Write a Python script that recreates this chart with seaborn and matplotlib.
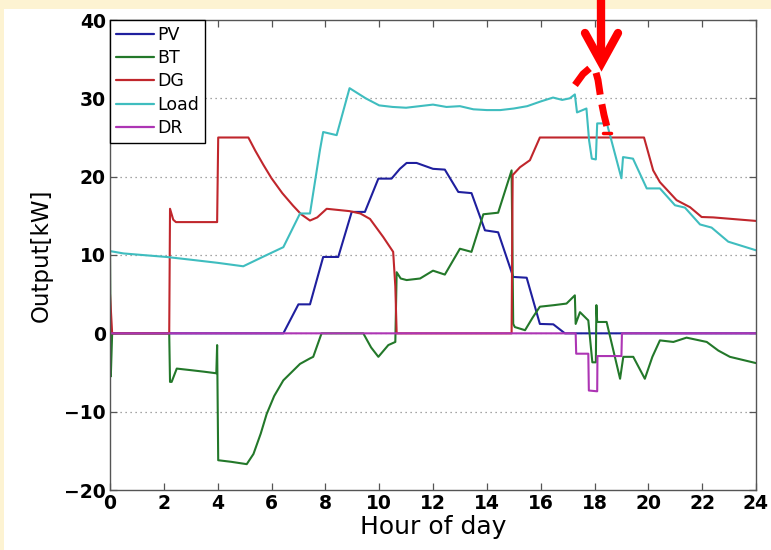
import numpy as np
import pandas as pd
import matplotlib
matplotlib.use("Agg")
import matplotlib.pyplot as plt
from matplotlib.patches import Rectangle
from matplotlib.lines import Line2D
import seaborn as sns

# ---- data (hour of day, output in kW) ----
pv_hours = [0, 6.44, 7.0, 7.43, 7.92, 8.48, 8.98, 9.47, 9.97, 10.46, 10.77, 11.02, 11.39,
            12.0, 12.44, 12.94, 13.43, 13.93, 14.42, 14.98, 15.48, 15.97, 16.47, 16.9, 24]
pv_kw = [0, 0, 3.7, 3.7, 9.75, 9.75, 15.5, 15.5, 19.75, 19.75, 21.0, 21.75, 21.75,
         21.0, 20.9, 18.05, 17.9, 13.15, 12.9, 7.2, 7.1, 1.2, 1.15, 0, 0]

bt_hours = [0, 0.03, 0.08, 2.2, 2.23, 2.29, 2.48, 3.0, 3.5, 3.95, 3.98, 4.02, 4.5, 5.08,
            5.33, 5.6, 5.82, 6.1, 6.44, 7.06, 7.43, 7.55, 7.86, 9.41, 9.7, 9.97, 10.34,
            10.6, 10.65, 10.8, 11.02, 11.52, 12.0, 12.44, 13.0, 13.43, 13.87, 14.42,
            14.92, 14.98, 15.04, 15.42, 15.7, 15.97, 16.5, 16.96, 17.27, 17.3, 17.46,
            17.77, 17.92, 18.05, 18.07, 18.1, 18.45, 18.95, 19.07, 19.44, 19.87, 20.15,
            20.43, 20.93, 21.42, 22.17, 22.6, 23.03, 24]
bt_kw = [10.4, -5.5, 0, 0, -6.2, -6.2, -4.5, -4.7, -4.9, -5.1, -1.5, -16.2, -16.4, -16.7,
         -15.4, -12.8, -10.3, -8.0, -6.0, -3.9, -3.2, -3.0, 0, 0, -1.8, -3.0, -1.5,
         -1.1, 7.8, 7.0, 6.8, 7.0, 8.0, 7.5, 10.8, 10.4, 15.2, 15.4,
         20.8, 1.2, 0.8, 0.4, 2.0, 3.4, 3.6, 3.8, 4.85, 1.2, 2.7,
         1.65, -3.7, -3.7, 3.6, 1.45, 1.45, -5.8, -3.0, -3.0, -5.8, -3.0,
         -0.9, -1.1, -0.55, -1.1, -2.2, -3.0, -3.8]

dg_hours = [0, 0.08, 2.2, 2.23, 2.35, 2.45, 3.98, 4.02, 5.14, 5.4, 5.7, 6.0, 6.4, 6.8,
            7.1, 7.43, 7.7, 8.05, 8.9, 9.3, 9.66, 10.15, 10.52, 10.6, 10.65, 14.92,
            14.96, 15.23, 15.6, 15.97, 19.84, 20.18, 20.43, 21.05, 21.55, 21.98, 22.41, 24]
dg_kw = [5.0, 0, 0, 15.9, 14.5, 14.2, 14.2, 25.0, 25.0, 23.3, 21.5, 19.8, 17.9, 16.3,
         15.2, 14.4, 14.8, 15.9, 15.6, 15.3, 14.6, 12.3, 10.4, 6.0, 0, 0,
         20.2, 21.2, 22.1, 25.0, 25.0, 20.8, 19.3, 17.0, 16.1, 14.85, 14.8, 14.35]

load_hours = [0, 0.5, 1.2, 2.1, 3.0, 4.0, 4.95, 5.7, 6.44, 7.06, 7.43, 7.8, 7.92, 8.42,
              8.9, 9.5, 10.0, 10.5, 11.0, 11.5, 12.0, 12.5, 13.0, 13.5, 14.0, 14.5,
              15.0, 15.5, 16.0, 16.46, 16.8, 17.08, 17.27, 17.35, 17.7, 17.8, 17.9,
              18.05, 18.1, 18.46, 19.0, 19.06, 19.43, 19.94, 20.43, 20.99, 21.36,
              21.92, 22.35, 22.97, 24]
load_kw = [10.5, 10.2, 10.0, 9.75, 9.4, 9.0, 8.56, 9.8, 11.0, 15.3, 15.3, 23.4, 25.7,
           25.3, 31.3, 30.0, 29.1, 28.9, 28.8, 29.0, 29.2, 28.9, 29.0, 28.6, 28.5,
           28.5, 28.7, 29.0, 29.6, 30.1, 29.8, 30.0, 30.5, 28.2, 28.7, 24.6, 22.3,
           22.2, 26.8, 26.8, 19.8, 22.5, 22.3, 18.5, 18.5, 16.35, 16.05, 13.9,
           13.5, 11.7, 10.6]

dr_hours = [0, 17.3, 17.32, 17.77, 17.79, 18.1, 18.11, 19.0, 19.02, 24]
dr_kw = [0, 0, -2.6, -2.6, -7.3, -7.4, -2.9, -2.9, 0, 0]

series = ["PV", "BT", "DG", "Load", "DR"]
colors = ["#1f1f9e", "#23782a", "#c0262c", "#3fbdbf", "#ad35b4"]

frames = []
for name, hrs, vals in [("PV", pv_hours, pv_kw), ("BT", bt_hours, bt_kw),
                        ("DG", dg_hours, dg_kw), ("Load", load_hours, load_kw),
                        ("DR", dr_hours, dr_kw)]:
    frames.append(pd.DataFrame({"hour": hrs, "kw": vals, "source": name}))
df = pd.concat(frames, ignore_index=True)

sns.set_style("ticks")
plt.rcParams["font.family"] = ["DejaVu Sans"]
plt.rcParams["text.color"] = "black"
plt.rcParams["axes.labelcolor"] = "black"

fig = plt.figure(figsize=(7.71, 5.5), dpi=100)
fig.patch.set_facecolor("white")
# pale frame strips along the top and left edges
fig.patches.append(Rectangle((0, 1 - 9 / 550), 1, 9 / 550, transform=fig.transFigure,
                             facecolor="#fdf3d2", edgecolor="none", zorder=-5))
fig.patches.append(Rectangle((0, 0), 4 / 771, 1, transform=fig.transFigure,
                             facecolor="#fdf3d2", edgecolor="none", zorder=-5))

ax = fig.add_axes([110 / 771, 60 / 550, 646 / 771, 470 / 550])
sns.lineplot(data=df, x="hour", y="kw", hue="source", hue_order=series,
             palette=colors, estimator=None, sort=False, linewidth=1.5, ax=ax,
             legend=False)

ax.set_xlim(0, 24)
ax.set_ylim(-20, 40)
ax.set_xticks(range(0, 25, 2))
ax.set_yticks(range(-20, 41, 10))
ax.tick_params(direction="in", top=True, right=True, length=5, width=0.9,
               labelsize=13.5, pad=3, color="#555555", labelcolor="black")
for lbl in ax.get_xticklabels() + ax.get_yticklabels():
    lbl.set_fontweight("bold")
for s in ax.spines.values():
    s.set_color("#555555")
    s.set_linewidth(1.0)

for yv in [-10, 0, 10, 20, 30]:
    ax.axhline(yv, color="#888888", linestyle=(0, (1, 3)), linewidth=0.9, zorder=0)

ax.set_xlabel("Hour of day", fontsize=18, labelpad=1, color="black")
ax.set_ylabel("Output[kW]", fontsize=16.5, labelpad=8, color="black")

handles = [Line2D([0], [0], color=c, linewidth=1.6) for c in colors]
leg = ax.legend(handles, series, loc="upper left", borderaxespad=0, fontsize=12.5,
                handlelength=2.2, handletextpad=0.15, labelspacing=0.3,
                frameon=True, fancybox=False, borderpad=0.35, labelcolor="black")
leg.get_frame().set_edgecolor("black")
leg.get_frame().set_linewidth(1.0)
leg.get_frame().set_alpha(1)

# red marker arrow pointing down at the evening peak
def fpt(x, y):
    return (x / 771, 1 - y / 550)

red = "#ff0000"
fig.add_artist(Line2D(*zip(fpt(601, 0), fpt(601, 60)), transform=fig.transFigure,
                      color=red, linewidth=6, solid_capstyle="butt"))
fig.add_artist(Line2D(*zip(fpt(585, 33), fpt(601.5, 63), fpt(618, 33)),
                      transform=fig.transFigure, color=red, linewidth=6,
                      solid_joinstyle="miter"))
curve = [fpt(575, 85), fpt(583, 74), fpt(590, 68), fpt(595, 69), fpt(598, 80),
         fpt(601, 100), fpt(604, 115), fpt(607, 127)]
fig.add_artist(Line2D(*zip(*curve), transform=fig.transFigure, color=red,
                      linewidth=5, linestyle=(0, (3.2, 1.4))))
fig.add_artist(Line2D(*zip(fpt(603, 133), fpt(611, 133)), transform=fig.transFigure,
                      color=red, linewidth=2.5))

fig.savefig("out.png", dpi=100)
